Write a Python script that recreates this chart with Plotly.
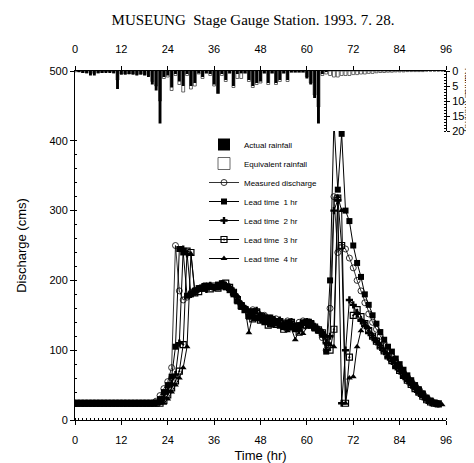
import plotly.graph_objects as go

# ---------------- data ----------------
hours_m = list(range(0, 94))
measured = [24, 24, 24, 24, 24, 24, 24, 24, 24, 24,
            24, 24, 24, 24, 24, 24, 24, 24, 24, 24,
            24, 27, 35, 45, 55, 75, 250, 185, 172, 176,
            182, 186, 188, 190, 190, 192, 190, 193, 195, 192,
            188, 183, 175, 165, 160, 152, 158, 150, 145, 150,
            145, 142, 145, 140, 138, 142, 140, 135, 140, 142,
            138, 136, 133, 128, 118, 100, 160, 320, 240, 248,
            245, 232, 218, 200, 185, 168, 152, 140, 130, 120,
            110, 100, 92, 84, 76, 68, 62, 56, 50, 44,
            38, 32, 27, 24]

hours_l1 = list(range(0, 95))
lead1 = [24, 24, 24, 24, 24, 24, 24, 24, 24, 24,
         24, 24, 24, 24, 24, 24, 24, 24, 24, 24,
         24, 25, 30, 40, 50, 62, 105, 245, 240, 178,
         180, 185, 189, 188, 192, 191, 190, 194, 196, 190,
         186, 180, 170, 162, 158, 148, 156, 146, 150, 140,
         147, 138, 142, 135, 133, 140, 135, 130, 136, 140,
         141, 135, 131, 128, 122, 98, 200, 428, 330, 410,
         300, 285, 250, 225, 205, 180, 165, 150, 138, 126,
         115, 105, 98, 88, 80, 72, 64, 57, 50, 44,
         38, 32, 28, 25, 23]

hours_l2 = list(range(0, 95))
lead2 = [24, 24, 24, 24, 24, 24, 24, 24, 24, 24,
         24, 24, 24, 24, 24, 24, 24, 24, 24, 24,
         24, 24, 26, 32, 42, 52, 65, 110, 245, 238,
         180, 183, 188, 191, 187, 193, 190, 191, 195, 193,
         190, 185, 176, 166, 160, 155, 147, 157, 144, 148,
         138, 146, 139, 143, 134, 132, 141, 134, 128, 137,
         141, 140, 134, 130, 125, 110, 120, 300, 315, 24,
         100, 172, 165, 152, 142, 135, 125, 118, 112, 104,
         98, 90, 84, 76, 70, 62, 56, 50, 44, 38,
         33, 28, 25, 24, 23]

hours_l3 = list(range(0, 95))
lead3 = [24, 24, 24, 24, 24, 24, 24, 24, 24, 24,
         24, 24, 24, 24, 24, 24, 24, 24, 24, 24,
         24, 24, 24, 28, 36, 46, 56, 70, 108, 242,
         240, 182, 184, 189, 192, 188, 192, 189, 192, 196,
         190, 183, 172, 164, 158, 150, 145, 155, 143, 146,
         136, 144, 137, 141, 130, 133, 140, 132, 126, 135,
         140, 138, 133, 129, 125, 115, 100, 130, 318, 250,
         24, 90, 150, 158, 148, 138, 128, 120, 113, 106,
         99, 92, 85, 78, 71, 64, 57, 51, 45, 40,
         34, 29, 26, 24, 23]

hours_l4 = list(range(0, 96))
lead4 = [24, 24, 24, 24, 24, 24, 24, 24, 24, 24,
         24, 24, 24, 24, 24, 24, 24, 24, 24, 24,
         24, 24, 24, 24, 30, 40, 50, 60, 75, 105,
         238, 185, 186, 190, 193, 189, 191, 188, 190, 195,
         192, 186, 178, 168, 160, 125, 150, 146, 152, 141,
         145, 135, 142, 136, 139, 128, 131, 115, 130, 124,
         133, 138, 135, 131, 127, 120, 108, 105, 320, 300,
         24, 60, 62, 105, 128, 140, 132, 122, 115, 108,
         100, 93, 86, 79, 72, 65, 58, 52, 46, 40,
         35, 30, 27, 25, 24, 22]

rain_hours = list(range(0, 96))
actual_rain = [0, 0.3, 0.5, 0.8, 1.5, 1.5, 0.8, 0.5, 0.5, 0.5,
               0.8, 6.0, 1.2, 1.2, 1.0, 1.2, 1.5, 1.2, 1.5, 2.0,
               4.5, 6.5, 17.5, 2.0, 1.5, 5.5, 1.0, 3.5, 5.0, 1.0,
               5.0, 4.0, 0.8, 2.0, 0.5, 1.0, 4.5, 7.5, 1.0, 3.0,
               0.5, 5.0, 1.0, 0.8, 0.5, 3.0, 5.0, 4.0, 3.5, 0.5,
               4.0, 0.5, 4.0, 3.0, 0.5, 3.0, 0.3, 0.3, 0.3, 0.3,
               2.5, 4.5, 9.0, 17.5, 1.0, 0.3, 0, 0, 0, 0,
               0, 0, 0, 0, 0, 0, 0, 0, 0, 0,
               0, 0, 0, 0, 0, 0, 0, 0, 0, 0,
               0, 0, 0, 0, 0, 0]
equiv_rain = [0.3, 0.3, 0.5, 0.5, 0.8, 0.8, 0.5, 0.5, 0.3, 0.3,
              0.5, 3.0, 1.0, 1.0, 1.0, 1.0, 1.2, 1.0, 1.2, 1.5,
              3.5, 5.0, 10.0, 2.5, 2.0, 6.5, 1.5, 4.5, 7.0, 1.5,
              6.0, 5.0, 1.0, 2.5, 0.8, 1.5, 5.0, 7.5, 1.5, 3.5,
              0.8, 5.5, 2.5, 2.5, 0.8, 3.5, 5.5, 4.5, 4.0, 0.8,
              4.5, 0.8, 4.5, 3.5, 0.8, 3.5, 0.5, 0.5, 0.5, 0.5,
              2.0, 4.0, 8.0, 12.0, 1.5, 1.0, 1.5, 2.0, 2.0, 1.5,
              1.5, 1.5, 1.2, 1.2, 1.0, 1.0, 0.8, 0.8, 0.6, 0.5,
              0.5, 0.4, 0.4, 0.3, 0.3, 0.3, 0.2, 0.2, 0.2, 0.2,
              0.2, 0, 0, 0, 0, 0]

time_ticks = [0, 12, 24, 36, 48, 60, 72, 84, 96]
q_ticks = [0, 100, 200, 300, 400, 500]
rain_ticks = [0, 5, 10, 15, 20]

# ---------------- figure ----------------
W, H = 474, 463
L, R, T, B = 67, 36, 63, 51
plot_w = W - L - R
plot_h = H - T - B
rain_px = 60  # pixels for 0..20 mm/hr

fig = go.Figure()

fig.add_trace(go.Bar(x=rain_hours, y=equiv_rain, xaxis="x", yaxis="y2", width=0.75,
                     marker=dict(color="white", line=dict(color="#444", width=0.8)),
                     name="Equivalent rainfall", legendrank=2))
fig.add_trace(go.Bar(x=rain_hours, y=actual_rain, xaxis="x", yaxis="y2", width=0.75,
                     marker=dict(color="black", line=dict(color="black", width=0)),
                     name="Actual rainfall", legendrank=1))

line_common = dict(color="black", width=1)
msz = 6
fig.add_trace(go.Scatter(x=hours_m, y=measured, mode="lines+markers", name="Measured discharge",
                         line=dict(color="black", width=0.8),
                         marker=dict(symbol="circle-open", size=msz, color="black", line=dict(width=0.8)),
                         legendrank=3))
fig.add_trace(go.Scatter(x=hours_l1, y=lead1, mode="lines+markers", name="Lead time  1 hr",
                         line=line_common, marker=dict(symbol="square", size=msz, color="black"),
                         legendrank=4))
fig.add_trace(go.Scatter(x=hours_l2, y=lead2, mode="lines+markers", name="Lead time  2 hr",
                         line=line_common, marker=dict(symbol="cross", size=msz, color="black"),
                         legendrank=5))
fig.add_trace(go.Scatter(x=hours_l3, y=lead3, mode="lines+markers", name="Lead time  3 hr",
                         line=line_common,
                         marker=dict(symbol="square-open-dot", size=msz, color="black", line=dict(width=1.2)),
                         legendrank=6))
fig.add_trace(go.Scatter(x=hours_l4, y=lead4, mode="lines+markers", name="Lead time  4 hr",
                         line=line_common, marker=dict(symbol="triangle-up", size=msz, color="black"),
                         legendrank=7))
# helper trace so the top time axis is drawn
fig.add_trace(go.Scatter(x=[0, 96], y=[0, 0], xaxis="x2", yaxis="y", mode="markers",
                         marker=dict(opacity=0), showlegend=False, hoverinfo="skip"))

tickfont = dict(family="Liberation Sans, Arial", size=11, color="black")
minor_x = dict(dtick=1, ticks="inside", ticklen=2, tickcolor="black")

fig.update_layout(
    width=W, height=H,
    margin=dict(l=L, r=R, t=T, b=B, autoexpand=False),
    paper_bgcolor="white", plot_bgcolor="white",
    barmode="overlay",
    showlegend=True,
    title=dict(text="MUSEUNG  Stage Gauge Station. 1993. 7. 28.",
               font=dict(family="Liberation Serif, Times New Roman", size=15, color="black"),
               x=245 / W, xref="container", xanchor="center", y=1 - 12 / H, yref="container",
               yanchor="middle"),
    legend=dict(x=(196 - L) / plot_w, y=(H - B - 122) / plot_h, xanchor="left", yanchor="top",
                bgcolor="rgba(0,0,0,0)", borderwidth=0, tracegroupgap=0,
                font=dict(family="Liberation Sans, Arial", size=8, color="black"),
                itemwidth=30),
    xaxis=dict(range=[0, 96], tickvals=time_ticks, showline=True, linecolor="black", linewidth=1,
               ticks="outside", ticklen=4, tickcolor="black", showgrid=False, zeroline=False,
               minor=minor_x, tickfont=tickfont, anchor="y", ticklabelstandoff=6,
               title=dict(text="Time (hr)", font=dict(family="Liberation Sans, Arial", size=13, color="black"),
                          standoff=5)),
    xaxis2=dict(range=[0, 96], tickvals=time_ticks, overlaying="x", side="top", anchor="y",
                showline=True, linecolor="black", linewidth=1, ticks="outside", ticklen=4,
                tickcolor="black", showgrid=False, zeroline=False, minor=minor_x,
                tickfont=tickfont, ticklabelstandoff=9),
    yaxis=dict(range=[0, 500], tickvals=q_ticks, showline=True, linecolor="black", linewidth=1,
               ticks="outside", ticklen=4, tickcolor="black", showgrid=False, zeroline=False,
               minor=dict(dtick=20, ticks="inside", ticklen=2, tickcolor="black"),
               tickfont=tickfont,
               title=dict(text="Discharge (cms)", font=dict(family="Liberation Sans, Arial", size=13, color="black"),
                          standoff=19)),
    yaxis2=dict(range=[20, 0], domain=[1 - rain_px / plot_h, 1], anchor="x", side="right",
                tickvals=rain_ticks, showline=True, linecolor="black", linewidth=1,
                ticks="outside", ticklen=3, tickcolor="black", showgrid=False, zeroline=False,
                minor=dict(dtick=1, ticks="inside", ticklen=2, tickcolor="black"),
                tickfont=dict(family="Liberation Sans, Arial", size=11, color="black")),
    annotations=[dict(text="Rainfall (mm/hr)", textangle=90,
                      x=(460 - L) / plot_w, y=(H - B - 92) / plot_h,
                      xref="paper", yref="paper", xanchor="center", yanchor="middle",
                      showarrow=False, borderpad=0,
                      font=dict(family="Liberation Sans, Arial", size=9, color="black"))],
)

fig.write_html("out.html")
